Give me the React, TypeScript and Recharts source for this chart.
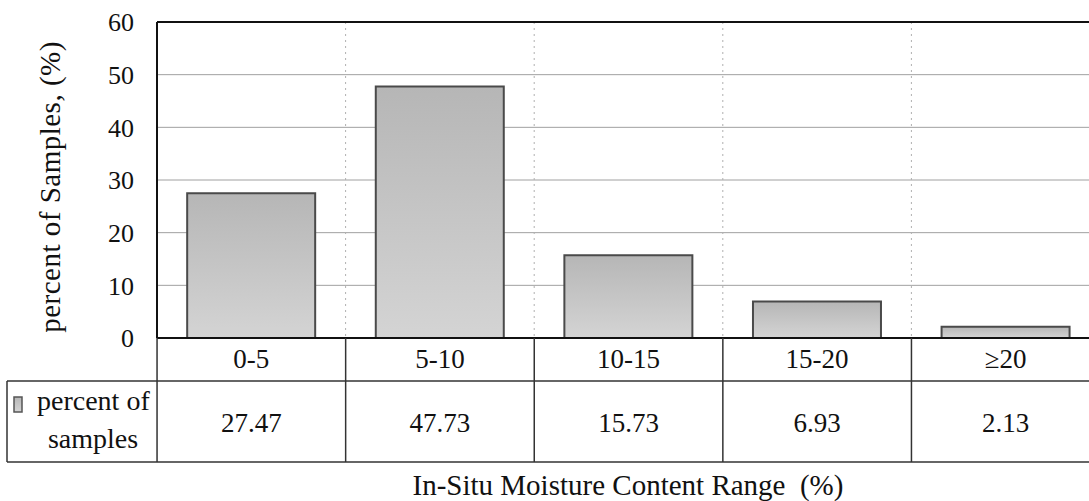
import React from 'react';
import { BarChart, Bar, XAxis, YAxis, CartesianGrid, ReferenceLine, Label } from 'recharts';

// chart values
const categories = ['0-5', '5-10', '10-15', '15-20', '≥20'];
const percentOfSamples = [27.47, 47.73, 15.73, 6.93, 2.13];
const valueLabels = ['27.47', '47.73', '15.73', '6.93', '2.13'];
const yTicks = [0, 10, 20, 30, 40, 50, 60];
const Y_MAX = 60;

const seriesName = ['percent of', 'samples'];
const xTitle = 'In-Situ Moisture Content Range \u00A0(%)';
const yTitle = 'percent of Samples, (%)';

const data = categories.map((c, i) => ({ range: c, value: percentOfSamples[i] }));

// layout
const PLOT_LEFT = 157;
const PLOT_TOP = 22;
const PLOT_BOTTOM = 338;
const CELL_W = 188.5;
const CHART_W = Math.round(PLOT_LEFT + CELL_W * categories.length);
const CHART_H = 501;
const ROW_SPLIT = 381;
const TABLE_BOTTOM = 462;
const TABLE_LEFT = 7;

const FONT = "'Liberation Serif', 'Times New Roman', serif";
const LINE = '#333';
const tableText = { fontFamily: FONT, fontSize: 27, fill: '#111' };
const titleText = { fontFamily: FONT, fontSize: 29, fill: '#111' };

const TableTick = (props: any) => {
  const { x, index } = props;
  const left = x - CELL_W / 2;
  return (
    <g>
      <line x1={left} y1={PLOT_BOTTOM} x2={left} y2={TABLE_BOTTOM} stroke={LINE} strokeWidth={1.5} />
      <text x={x} y={368} textAnchor="middle" style={tableText}>
        {categories[index]}
      </text>
      <text x={x} y={432} textAnchor="middle" style={tableText}>
        {valueLabels[index]}
      </text>
      {index === 0 && (
        <g>
          <line x1={TABLE_LEFT} y1={ROW_SPLIT} x2={CHART_W} y2={ROW_SPLIT} stroke={LINE} strokeWidth={1.5} />
          <line x1={TABLE_LEFT} y1={TABLE_BOTTOM} x2={CHART_W} y2={TABLE_BOTTOM} stroke={LINE} strokeWidth={1.5} />
          <line x1={TABLE_LEFT} y1={ROW_SPLIT} x2={TABLE_LEFT} y2={TABLE_BOTTOM} stroke={LINE} strokeWidth={1.5} />
          <rect x={14} y={397} width={8} height={15} fill="url(#barFill)" stroke="#555" strokeWidth={1.5} />
          <text x={37} y={410} textAnchor="start" style={{ ...tableText, fontSize: 28 }}>
            {seriesName[0]}
          </text>
          <text x={93} y={448} textAnchor="middle" style={{ ...tableText, fontSize: 28 }}>
            {seriesName[1]}
          </text>
        </g>
      )}
    </g>
  );
};

const XTitle = () => (
  <text x={628} y={495} textAnchor="middle" style={titleText}>
    {xTitle}
  </text>
);

const YTitle = () => (
  <text x={60} y={187} transform="rotate(-90, 60, 187)" textAnchor="middle" style={{ ...titleText, letterSpacing: 0.5 }}>
    {yTitle}
  </text>
);

export default function App() {
  return (
    <div style={{ position: 'absolute', left: 0, top: 0, width: 1089, height: 501, overflow: 'hidden', background: '#fff' }}>
      <BarChart
        width={CHART_W}
        height={CHART_H}
        data={data}
        margin={{ top: PLOT_TOP, right: 0, left: 0, bottom: 0 }}
        barCategoryGap="16%"
      >
        <defs>
          <linearGradient id="barFill" x1="0" y1="0" x2="0" y2="1">
            <stop offset="0%" stopColor="#b6b6b6" />
            <stop offset="100%" stopColor="#d4d4d4" />
          </linearGradient>
        </defs>
        <CartesianGrid
          horizontal
          vertical={false}
          stroke="#a0a0a0"
          horizontalCoordinatesGenerator={({ offset }: any) =>
            yTicks.slice(1, -1).map((t) => offset.top + offset.height * (1 - t / Y_MAX))
          }
        />
        <CartesianGrid
          horizontal={false}
          vertical
          stroke="#b0b0b0"
          strokeDasharray="2 4"
          verticalCoordinatesGenerator={({ offset }: any) =>
            categories.slice(1).map((_, i) => offset.left + ((i + 1) * offset.width) / categories.length)
          }
        />
        <XAxis
          dataKey="range"
          height={CHART_H - PLOT_BOTTOM}
          axisLine={{ stroke: '#111', strokeWidth: 2 }}
          tickLine={false}
          tickSize={0}
          tickMargin={0}
          interval={0}
          tick={<TableTick />}
        >
          <Label content={<XTitle />} />
        </XAxis>
        <YAxis
          width={PLOT_LEFT}
          domain={[0, Y_MAX]}
          ticks={yTicks}
          axisLine={{ stroke: '#111', strokeWidth: 2 }}
          tickLine={false}
          tickSize={6}
          tickMargin={17}
          tick={{ fontFamily: FONT, fontSize: 26, fill: '#111' }}
        >
          <Label content={<YTitle />} />
        </YAxis>
        <ReferenceLine y={Y_MAX} stroke="#111" strokeWidth={2} />
        <Bar dataKey="value" fill="url(#barFill)" stroke="#4a4a4a" strokeWidth={2} isAnimationActive={false} />
      </BarChart>
    </div>
  );
}
